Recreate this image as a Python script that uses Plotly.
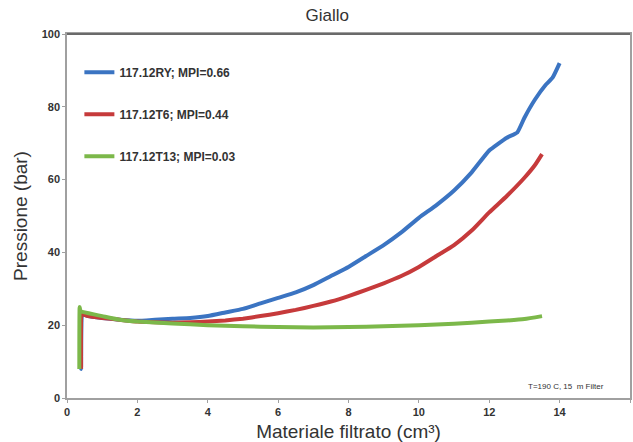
import plotly.graph_objects as go

blue_x = [0.38, 0.40, 0.42, 0.45, 0.6, 1.0, 1.5, 2.0, 2.5, 3.0, 3.5, 4.0, 4.5, 5.0, 5.5, 6.0, 6.5, 7.0, 7.5,
          8.0, 8.5, 9.0, 9.5, 10.0, 10.5, 11.0, 11.5, 12.0, 12.5, 12.8, 13.0, 13.3, 13.6, 13.8, 14.0]
blue_y = [22, 8, 22.5, 23, 22.5, 22, 21.5, 21.2, 21.5, 21.8, 22, 22.5, 23.5, 24.5, 26, 27.5, 29, 31, 33.5,
          36, 39, 42, 45.5, 49.5, 53, 57, 62, 68, 71.5, 73, 77, 82, 86, 88, 92]

red_x = [0.40, 0.42, 0.45, 0.6, 1.0, 1.5, 2.0, 2.5, 3.0, 3.5, 4.0, 4.5, 5.0, 5.5, 6.0, 6.5, 7.0, 7.5, 8.0,
         8.5, 9.0, 9.5, 10.0, 10.5, 11.0, 11.5, 12.0, 12.5, 13.0, 13.3, 13.5]
red_y = [8, 23, 23, 22.5, 22, 21.5, 21, 20.8, 20.7, 20.8, 21, 21.3, 21.8, 22.5, 23.3, 24.2, 25.3, 26.5, 28,
         29.7, 31.5, 33.5, 36, 39, 42, 46, 51, 55.5, 60.5, 64, 67]

green_x = [0.35, 0.36, 0.38, 0.5, 1.0, 1.5, 2.0, 3.0, 4.0, 5.0, 6.0, 7.0, 8.0, 9.0, 10.0, 11.0, 12.0,
           12.5, 13.0, 13.5]
green_y = [8, 25, 24, 23.5, 22.5, 21.5, 21, 20.5, 20, 19.7, 19.5, 19.4, 19.5, 19.7, 20, 20.4, 21,
           21.3, 21.7, 22.5]

names = ["117.12RY; MPI=0.66", "117.12T6; MPI=0.44", "117.12T13; MPI=0.03"]
colors = ["#3b74c2", "#c63a3b", "#7cb84a"]
x_ticks = [0, 2, 4, 6, 8, 10, 12, 14, 16]
y_ticks = [0, 20, 40, 60, 80, 100]

fig = go.Figure()
for i, (xs, ys) in enumerate([(blue_x, blue_y), (red_x, red_y), (green_x, green_y)]):
    fig.add_trace(go.Scatter(x=xs, y=ys, mode="lines", name=names[i], legendgroup=str(i),
                             line=dict(color=colors[i], width=4, shape="spline", smoothing=0.4)))

axis_common = dict(showgrid=False, zeroline=False, showline=True, linecolor="#a0a0a0", linewidth=1.5,
                   ticks="outside", ticklen=3, tickcolor="#a0a0a0",
                   tickfont=dict(family="Liberation Sans, Arial", size=11, color="#333333", weight="bold"))

fig.update_layout(
    width=633, height=442,
    margin=dict(l=67, r=1, t=34, b=44),
    paper_bgcolor="white", plot_bgcolor="white",
    title=dict(text="Giallo", x=0.517, xanchor="center", y=0.966, yanchor="middle",
               font=dict(family="Liberation Sans, Arial", size=17, color="#333333")),
    xaxis=dict(range=[0, 16], tickvals=x_ticks, mirror=True,
               title=dict(text="Materiale filtrato (cm³)", standoff=10,
                          font=dict(family="Liberation Sans, Arial", size=19, color="#333333")),
               **axis_common),
    yaxis=dict(range=[0, 100], tickvals=y_ticks, mirror=True,
               title=dict(text="Pressione (bar)", standoff=9,
                          font=dict(family="Liberation Sans, Arial", size=19, color="#333333")),
               **axis_common),
    legend=dict(x=0.022, y=0.935, xanchor="left", yanchor="top", bgcolor="rgba(0,0,0,0)",
                traceorder="grouped", tracegroupgap=23, itemwidth=30,
                font=dict(family="Liberation Sans, Arial", size=12, color="#333333", weight="bold")),
    showlegend=True,
)

fig.add_shape(type="line", xref="paper", yref="paper", x0=0, x1=1, y0=1, y1=1,
              line=dict(color="#6a6a6a", width=2))

fig.add_annotation(text="T=190 C, 15  m Filter", x=13.05, y=3.2, xref="x", yref="y",
                   xanchor="left", yanchor="middle", showarrow=False,
                   font=dict(family="Liberation Sans, Arial", size=8, color="#333333"))

fig.write_html("out.html")
